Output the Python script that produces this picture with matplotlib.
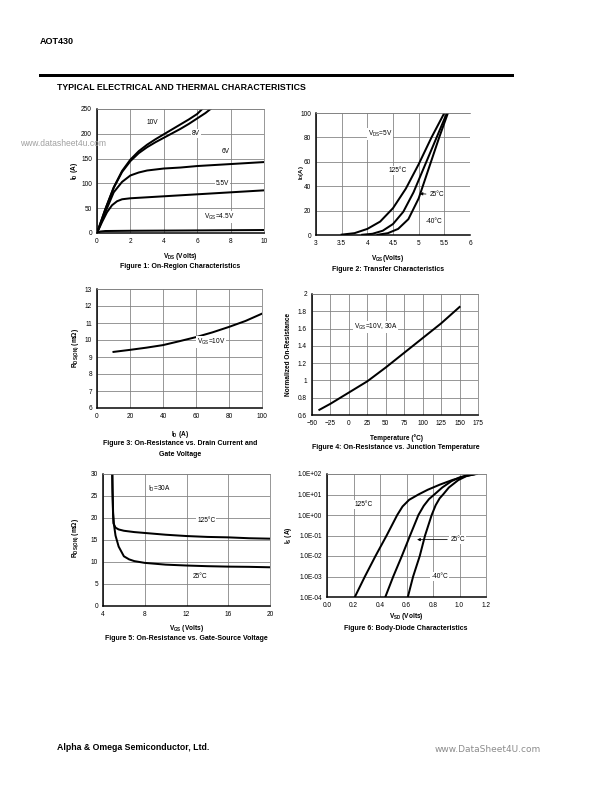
import numpy as np
import matplotlib.pyplot as plt
from matplotlib.lines import Line2D

plt.rcParams['font.family'] = ['Liberation Sans', 'DejaVu Sans']
plt.rcParams['mathtext.fontset'] = 'custom'
plt.rcParams['mathtext.rm'] = 'Liberation Sans'
plt.rcParams['mathtext.bf'] = 'Liberation Sans:bold'
plt.rcParams['mathtext.default'] = 'regular'

W, H = 612, 792

# Figure 1: On-region characteristics (I_D vs V_DS)
vds_10v = [0, 0.5, 1, 1.5, 2, 2.5, 3, 3.5, 4, 4.5, 5, 5.5, 6, 6.3]
id_10v = [0, 48, 92, 125, 148, 165, 178, 189, 199, 209, 219, 229, 240, 250]
vds_8v = [0, 0.5, 1, 1.5, 2, 2.5, 3, 3.5, 4, 4.5, 5, 5.5, 6, 6.5, 6.8]
id_8v = [0, 48, 91, 123, 145, 161, 173, 183, 192, 201, 210, 220, 231, 242, 250]
vds_6v = [0, 0.5, 1, 1.5, 2, 2.5, 3, 4, 5, 6, 7, 8, 9, 10]
id_6v = [0, 42, 82, 103, 116, 122, 126, 130, 132, 135, 137, 139, 141, 143]
vds_55v = [0, 0.3, 0.6, 0.9, 1.2, 1.5, 2, 3, 4, 5, 6, 7, 8, 9, 10]
id_55v = [0, 22, 42, 56, 64, 68, 70, 72, 74, 76, 78, 80, 82, 84, 86]
vds_45v = [0, 0.2, 0.5, 2, 5, 10]
id_45v = [0, 3, 4, 4.5, 5, 6]

# Figure 2: Transfer characteristics (I_D vs V_GS)
vgs_125 = [3.5, 3.75, 4.0, 4.25, 4.5, 4.75, 5.0, 5.25, 5.5]
id_125 = [0.3, 1.5, 5, 11, 22, 38, 58, 80, 100]
vgs_25 = [3.9, 4.1, 4.3, 4.5, 4.7, 4.9, 5.1, 5.3, 5.55]
id_25 = [0.2, 1, 3.5, 9, 19, 35, 55, 75, 100]
vgs_m40 = [4.2, 4.4, 4.6, 4.8, 5.0, 5.2, 5.4, 5.57]
id_m40 = [0.2, 1.5, 5, 13, 30, 55, 80, 100]

# Figure 3: On-resistance vs drain current
id_f3 = [10, 20, 30, 40, 50, 60, 70, 80, 90, 100]
rds_f3 = [9.3, 9.42, 9.55, 9.7, 9.93, 10.17, 10.45, 10.77, 11.12, 11.55]

# Figure 4: Normalized on-resistance vs junction temperature
temp_f4 = [-40, -25, 0, 25, 50, 75, 100, 125, 150]
rnorm_f4 = [0.66, 0.73, 0.86, 0.99, 1.15, 1.32, 1.49, 1.66, 1.85]

# Figure 5: On-resistance vs gate-source voltage
vgs5_125 = [4.88, 4.9, 4.95, 5.0, 5.2, 5.5, 6, 7, 8, 10, 12, 14, 16, 18, 20]
rds5_125 = [30, 27, 22, 18.8, 17.8, 17.4, 17.1, 16.8, 16.6, 16.2, 15.9, 15.7, 15.6, 15.4, 15.3]
vgs5_25 = [4.9, 4.92, 4.97, 5.05, 5.2, 5.5, 6, 6.5, 7, 8, 10, 12, 14, 16, 18, 20]
rds5_25 = [30, 26, 21, 18.5, 16, 13.5, 11.3, 10.6, 10.2, 9.8, 9.4, 9.2, 9.05, 8.95, 8.9, 8.8]

# Figure 6: Body-diode characteristics (I_S vs V_SD)
vsd_125 = [0.21, 0.286, 0.366, 0.45, 0.53, 0.57, 0.62, 0.69, 0.76, 0.85, 0.95, 1.05, 1.12]
is_125 = [1e-4, 1e-3, 1e-2, 1e-1, 1, 2.6, 5.5, 10, 17, 30, 52, 80, 100]
vsd_25 = [0.44, 0.5, 0.565, 0.627, 0.69, 0.73, 0.77, 0.81, 0.87, 0.94, 1.0, 1.06, 1.13]
is_25 = [1e-4, 1e-3, 1e-2, 1e-1, 1, 2.8, 6, 10, 22, 45, 68, 88, 100]
vsd_m40 = [0.61, 0.65, 0.70, 0.74, 0.79, 0.82, 0.85, 0.876, 0.92, 0.99, 1.05, 1.12]
is_m40 = [1e-4, 1e-3, 1e-2, 1e-1, 1, 3, 6.5, 10, 22, 50, 78, 100]


fig = plt.figure(figsize=(W / 72, H / 72), dpi=72)

TICK = 6.5
LAB = 6.5
CAP = 7


def box(l, t, r, b):
    return [l / W, 1 - b / H, (r - l) / W, (b - t) / H]


def ftext(x, y, s, **kw):
    kw.setdefault('fontsize', LAB)
    kw.setdefault('va', 'center')
    fig.text(x / W, 1 - y / H, s, **kw)


def style(ax, xt, yt, xlab=None, ylab=None):
    ax.set_xticks(xt)
    ax.set_yticks(yt)
    if xlab is not None:
        ax.set_xticklabels(xlab)
    if ylab is not None:
        ax.set_yticklabels(ylab)
    ax.set_xlim(xt[0], xt[-1])
    ax.set_ylim(yt[0], yt[-1])
    ax.grid(True, color='#808080', lw=0.8)
    ax.set_axisbelow(True)
    for s in ['top', 'right']:
        ax.spines[s].set_color('#808080')
        ax.spines[s].set_linewidth(0.8)
    for s in ['left', 'bottom']:
        ax.spines[s].set_color('black')
        ax.spines[s].set_linewidth(1.5)
    ax.tick_params(length=0, labelsize=TICK, pad=5)


white = dict(facecolor='white', edgecolor='none', pad=1)
lw = 2
ann = dict(fontsize=TICK, ha='center', va='center', bbox=white)

# header / footer
ftext(40, 42, 'AOT430', fontsize=9, fontweight='bold')
fig.add_artist(Line2D([40 / W, 512 / W], [1 - 75 / H] * 2, lw=3, color='black'))
ftext(57, 88, 'TYPICAL ELECTRICAL AND THERMAL CHARACTERISTICS', fontsize=8.8, fontweight='bold')
ftext(57, 747, 'Alpha & Omega Semiconductor, Ltd.', fontsize=8.8, fontweight='bold')
ftext(541, 750, 'www.DataSheet4U.com', fontsize=9, color='#8c8c8c', family='DejaVu Sans', ha='right')

# Figure 1
ax1 = fig.add_axes(box(97, 109, 264, 233))
style(ax1, [0, 2, 4, 6, 8, 10], [0, 50, 100, 150, 200, 250])
ax1.plot(vds_10v, id_10v, 'k', lw=lw)
ax1.plot(vds_8v, id_8v, 'k', lw=lw)
ax1.plot(vds_6v, id_6v, 'k', lw=lw)
ax1.plot(vds_55v, id_55v, 'k', lw=lw)
ax1.plot(vds_45v, id_45v, 'k', lw=lw)
ax1.text(3.3, 222, '10V', **ann)
ax1.text(5.9, 201, '8V', **ann)
ax1.text(7.7, 164, '6V', **ann)
ax1.text(7.5, 100, '5.5V', **ann)
ax1.text(7.3, 33, 'V$_{GS}$=4.5V', **ann)
ftext(180, 256, r'V$_{\mathbf{DS}}$ (Volts)', ha='center', fontweight='bold')
ftext(180, 266, 'Figure 1: On-Region Characteristics', ha='center', fontweight='bold', fontsize=CAP)
ftext(74, 171, r'I$_{\mathbf{D}}$ (A)', ha='center', rotation=90, fontweight='bold')
ftext(20, 143, 'www.datasheet4u.com', fontsize=8.5, color='#a0a0a0')

# Figure 2
ax2 = fig.add_axes(box(316, 113, 470, 235))
style(ax2, [3, 3.5, 4, 4.5, 5, 5.5, 6], [0, 20, 40, 60, 80, 100],
      xlab=['3', '3.5', '4', '4.5', '5', '5.5', '6'])
ax2.spines['right'].set_visible(False)
ax2.plot(vgs_125, id_125, 'k', lw=lw)
ax2.plot(vgs_25, id_25, 'k', lw=lw)
ax2.plot(vgs_m40, id_m40, 'k', lw=lw)
ax2.text(4.25, 83, 'V$_{DS}$=5V', **ann)
ax2.text(4.6, 53, '125°C', **ann)
ax2.annotate('25°C', xy=(4.98, 34), xytext=(5.22, 33), fontsize=TICK, va='center',
             arrowprops=dict(arrowstyle='-|>', color='k', lw=0.8, mutation_scale=6))
ax2.text(5.3, 11, '-40°C', **ann)
ftext(388, 259, r'V$_{\mathbf{GS}}$(Volts)', ha='center', fontweight='bold')
ftext(388, 270, 'Figure 2: Transfer Characteristics', ha='center', fontweight='bold', fontsize=CAP)
ftext(302, 173, r'I$_{\mathbf{D}}$(A)', ha='center', rotation=90, fontweight='bold', fontsize=6)

# Figure 3
ax3 = fig.add_axes(box(97, 289, 262, 408))
style(ax3, [0, 20, 40, 60, 80, 100], [6, 7, 8, 9, 10, 11, 12, 13])
ax3.plot(id_f3, rds_f3, 'k', lw=lw)
ax3.text(69, 9.9, 'V$_{GS}$=10V', **ann)
ftext(180, 435, r'I$_{\mathbf{D}}$ (A)', ha='center', fontweight='bold')
ftext(180, 444, 'Figure 3: On-Resistance vs. Drain Current and', ha='center', fontweight='bold', fontsize=CAP)
ftext(180, 454, 'Gate Voltage', ha='center', fontweight='bold', fontsize=CAP)
ftext(76, 348, r'R$_{\mathbf{DS(ON)}}$ (m$\mathbf{\Omega}$)', ha='center', rotation=90, fontweight='bold')

# Figure 4
ax4 = fig.add_axes(box(312, 294, 478, 415))
style(ax4, [-50, -25, 0, 25, 50, 75, 100, 125, 150, 175],
      [0.6, 0.8, 1.0, 1.2, 1.4, 1.6, 1.8, 2.0],
      ylab=['0.6', '0.8', '1', '1.2', '1.4', '1.6', '1.8', '2'])
ax4.plot(temp_f4, rnorm_f4, 'k', lw=lw)
ax4.text(36, 1.62, 'V$_{GS}$=10V, 30A', **ann)
ftext(396, 438, 'Temperature (°C)', ha='center', fontweight='bold')
ftext(396, 447, 'Figure 4: On-Resistance vs. Junction Temperature', ha='center', fontweight='bold', fontsize=CAP)
ftext(289, 354, 'Normalized On-Resistance', ha='center', rotation=90, fontweight='bold')

# Figure 5
ax5 = fig.add_axes(box(103, 474, 270, 606))
style(ax5, [4, 8, 12, 16, 20], [0, 5, 10, 15, 20, 25, 30])
ax5.plot(vgs5_125, rds5_125, 'k', lw=lw)
ax5.plot(vgs5_25, rds5_25, 'k', lw=lw)
ax5.text(9.4, 26.7, 'I$_D$=30A', fontsize=TICK, ha='center', va='center')
ax5.text(13.9, 19.4, '125°C', **ann)
ax5.text(13.3, 6.6, '25°C', **ann)
ftext(186, 628, r'V$_{\mathbf{GS}}$ (Volts)', ha='center', fontweight='bold')
ftext(186, 638, 'Figure 5: On-Resistance vs. Gate-Source Voltage', ha='center', fontweight='bold', fontsize=CAP)
ftext(76, 538, r'R$_{\mathbf{DS(ON)}}$ (m$\mathbf{\Omega}$)', ha='center', rotation=90, fontweight='bold')

# Figure 6
ax6 = fig.add_axes(box(327, 474, 486, 597))
ax6.set_yscale('log')
yt6 = [1e-4, 1e-3, 1e-2, 1e-1, 1e0, 1e1, 1e2]
style(ax6, [0, 0.2, 0.4, 0.6, 0.8, 1.0, 1.2], yt6,
      xlab=['0.0', '0.2', '0.4', '0.6', '0.8', '1.0', '1.2'],
      ylab=['1.0E-04', '1.0E-03', '1.0E-02', '1.0E-01', '1.0E+00', '1.0E+01', '1.0E+02'])
ax6.minorticks_off()
ax6.plot(vsd_125, is_125, 'k', lw=lw)
ax6.plot(vsd_25, is_25, 'k', lw=lw)
ax6.plot(vsd_m40, is_m40, 'k', lw=lw)
ax6.text(0.28, 3.1, '125°C', **ann)
ax6.annotate('25°C', xy=(0.665, 0.063), xytext=(0.93, 0.063), fontsize=TICK, va='center',
             bbox=white,
             arrowprops=dict(arrowstyle='-|>', color='k', lw=0.8, mutation_scale=6))
ax6.text(0.85, 1e-3, '-40°C', **ann)
ftext(406, 617, r'V$_{\mathbf{SD}}$ (Volts)', ha='center', fontweight='bold')
ftext(406, 629, 'Figure 6: Body-Diode Characteristics', ha='center', fontweight='bold', fontsize=CAP)
ftext(289, 535, r'I$_{\mathbf{S}}$ (A)', ha='center', rotation=90, fontweight='bold')

fig.savefig('out.png', dpi=72)
